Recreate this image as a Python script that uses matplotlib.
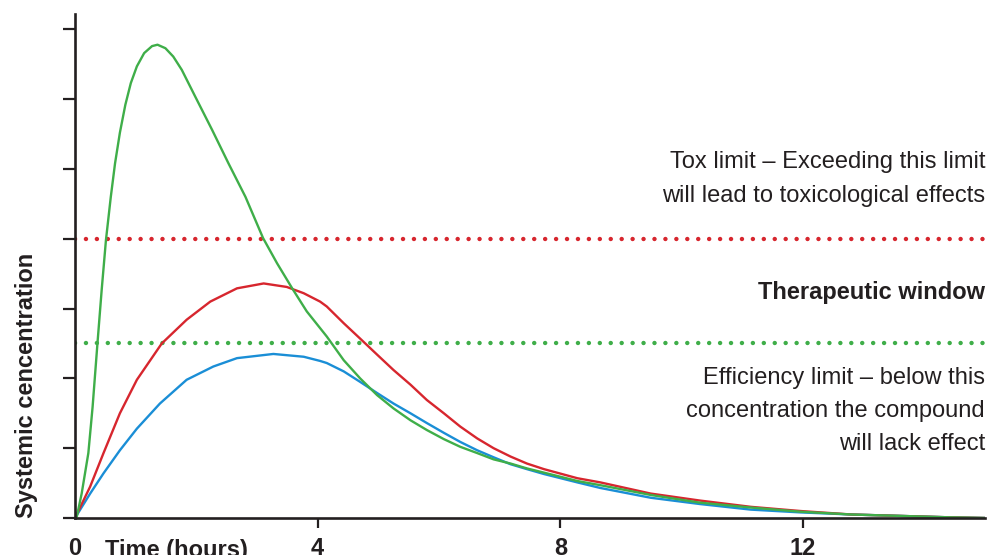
import matplotlib
matplotlib.use("Agg")
import matplotlib.pyplot as plt

plt.rcParams['font.family'] = ['Liberation Sans', 'DejaVu Sans']

# values (time in hours, concentration in tick units)
green_t = [0, 0.03, 0.11, 0.165, 0.22, 0.29, 0.37, 0.44, 0.51, 0.59, 0.66, 0.74, 0.83, 0.92,
           1.02, 1.14, 1.27, 1.36, 1.49, 1.62, 1.76, 1.98, 2.26, 2.53, 2.81, 3.10, 3.33, 3.58,
           3.82, 4.15, 4.43, 4.70, 4.98, 5.25, 5.53, 5.80, 6.08, 6.35, 6.63, 6.90, 7.18, 7.45,
           7.73, 8.28, 8.66, 9.49, 10.3, 11.14, 11.96, 12.8, 13.6, 14.4, 15]
green_c = [0, 0.02, 0.35, 0.64, 0.93, 1.59, 2.50, 3.27, 3.98, 4.60, 5.08, 5.52, 5.92, 6.23,
           6.47, 6.66, 6.76, 6.78, 6.73, 6.61, 6.42, 6.04, 5.56, 5.08, 4.60, 4.01, 3.65, 3.29,
           2.96, 2.60, 2.26, 2.00, 1.76, 1.57, 1.40, 1.26, 1.13, 1.02, 0.93, 0.84, 0.78, 0.71,
           0.65, 0.53, 0.47, 0.33, 0.22, 0.15, 0.09, 0.05, 0.03, 0.01, 0.0]

red_t = [0, 0.25, 0.47, 0.74, 1.02, 1.43, 1.84, 2.23, 2.67, 3.11, 3.49, 3.77, 4.04, 4.15, 4.43,
         4.70, 4.98, 5.25, 5.53, 5.80, 6.08, 6.35, 6.63, 6.90, 7.18, 7.45, 7.73, 8.28, 8.66,
         9.49, 10.3, 11.14, 11.96, 12.8, 13.6, 14.4, 15]
red_c = [0, 0.45, 0.93, 1.50, 1.98, 2.50, 2.84, 3.10, 3.29, 3.36, 3.31, 3.22, 3.10, 3.03, 2.79,
         2.57, 2.34, 2.12, 1.91, 1.69, 1.50, 1.31, 1.14, 1.00, 0.88, 0.78, 0.70, 0.57, 0.51,
         0.35, 0.25, 0.16, 0.10, 0.05, 0.03, 0.01, 0.0]

blue_t = [0, 0.25, 0.47, 0.74, 1.02, 1.40, 1.84, 2.28, 2.67, 3.27, 3.77, 4.04, 4.15, 4.43,
          4.70, 4.98, 5.25, 5.53, 5.80, 6.08, 6.35, 6.63, 6.90, 7.18, 7.45, 7.73, 8.28, 8.66,
          9.49, 10.3, 11.14, 11.96, 12.8, 13.6, 14.4, 15]
blue_c = [0, 0.35, 0.64, 0.97, 1.28, 1.64, 1.98, 2.17, 2.29, 2.35, 2.31, 2.25, 2.22, 2.10,
          1.95, 1.79, 1.64, 1.50, 1.36, 1.22, 1.09, 0.97, 0.87, 0.77, 0.70, 0.63, 0.51, 0.43,
          0.29, 0.20, 0.12, 0.08, 0.05, 0.03, 0.01, 0.0]

tox_limit = 4.0
eff_limit = 2.5

x_ticks = [0, 4, 8, 12]
y_ticks = [0, 1, 2, 3, 4, 5, 6, 7]

GREEN = '#3fae49'
RED = '#d7262e'
BLUE = '#1a8ed6'
INK = '#231f20'

fig = plt.figure(figsize=(9.89, 5.55), dpi=100)
ax = fig.add_axes([75 / 989, 1 - 518 / 555, 910 / 989, 504 / 555])

ax.plot([0, 15], [tox_limit, tox_limit], color=RED, lw=3.2,
        linestyle=(0, (0.01, 2.45)), dash_capstyle='round')
ax.plot([0, 15], [eff_limit, eff_limit], color=GREEN, lw=3.2,
        linestyle=(0, (0.01, 2.45)), dash_capstyle='round')

ax.plot(blue_t, blue_c, color=BLUE, lw=1.7, solid_joinstyle='round')
ax.plot(red_t, red_c, color=RED, lw=1.7, solid_joinstyle='round')
ax.plot(green_t, green_c, color=GREEN, lw=1.7, solid_joinstyle='round')

ax.set_xlim(0, 15)
ax.set_ylim(0, 7.22)

for side in ['top', 'right']:
    ax.spines[side].set_visible(False)
for side in ['left', 'bottom']:
    ax.spines[side].set_linewidth(1.9)
    ax.spines[side].set_color(INK)

ax.set_yticks(y_ticks)
ax.set_yticklabels([])
ax.tick_params(axis='y', length=8.5, width=1.6, color=INK)
ax.set_xticks(x_ticks)
ax.set_xticklabels([str(v) for v in x_ticks], fontsize=17, fontweight='bold', color=INK)
ax.tick_params(axis='x', length=7.5, width=1.6, color=INK, pad=6)
ax.xaxis.get_major_ticks()[0].tick1line.set_visible(False)

# axis title sits on the same line as the tick numbers
fig.text(105 / 989, 1 - 557 / 555, 'Time (hours)', fontsize=17, fontweight='bold',
         color=INK, ha='left', va='baseline')

fig.text(27 / 989, 1 - 385 / 555, 'Systemic cencentration', rotation=90,
         fontsize=17, fontweight='bold', color=INK, ha='center', va='center')

rx = 985 / 989
fig.text(rx, 1 - 162 / 555, 'Tox limit \u2013 Exceeding this limit', fontsize=17,
         color=INK, ha='right', va='center')
fig.text(rx, 1 - 196 / 555, 'will lead to toxicological effects', fontsize=17,
         color=INK, ha='right', va='center')
fig.text(rx, 1 - 292 / 555, 'Therapeutic window', fontsize=17, fontweight='bold',
         color=INK, ha='right', va='center')
fig.text(rx, 1 - 378 / 555, 'Efficiency limit \u2013 below this', fontsize=17,
         color=INK, ha='right', va='center')
fig.text(rx, 1 - 411 / 555, 'concentration the compound', fontsize=17,
         color=INK, ha='right', va='center')
fig.text(rx, 1 - 444 / 555, 'will lack effect', fontsize=17,
         color=INK, ha='right', va='center')

fig.savefig('out.png', dpi=100)
